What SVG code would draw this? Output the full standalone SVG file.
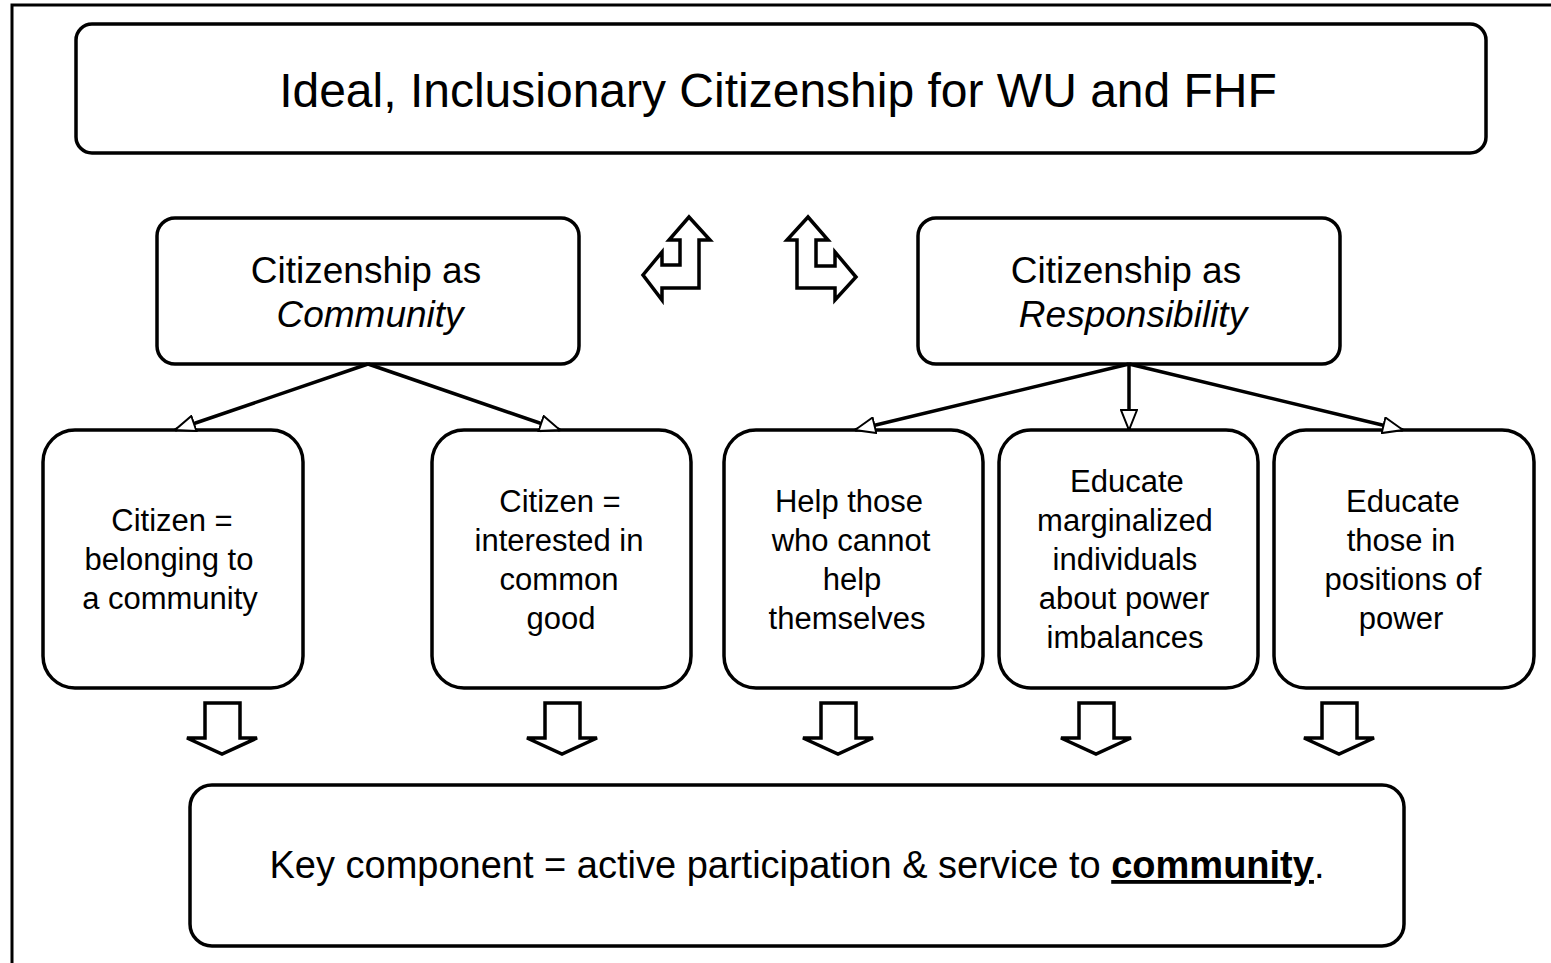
<svg xmlns="http://www.w3.org/2000/svg" width="1551" height="963" viewBox="0 0 1551 963">
<style>
.box{fill:#fff;stroke:#000;stroke-width:3.5}
.t{font-family:"Liberation Sans",Arial,sans-serif;fill:#000;text-anchor:middle}
.big{font-size:48px}
.mid{font-size:37px}
.sm{font-size:31px}
.conn{stroke:#000;stroke-width:3.5;fill:none}
.blk{fill:#fff;stroke:#000;stroke-width:3.5;stroke-linejoin:miter}
</style>
<defs>
<marker id="ah" viewBox="0 0 22 18" refX="21" refY="9" markerWidth="22" markerHeight="18" markerUnits="userSpaceOnUse" orient="auto">
<path d="M1,1 L21,9 L1,17 Z" fill="#fff" stroke="#000" stroke-width="2"/>
</marker>
</defs>
<rect width="1551" height="963" fill="#fff"/>
<path d="M12,963 V5 H1551" fill="none" stroke="#000" stroke-width="3"/>

<g id="title">
<rect class="box" x="76" y="24" width="1410" height="129" rx="16"/>
<text class="t big" x="778" y="107">Ideal, Inclusionary Citizenship for WU and FHF</text>
</g>

<g id="community">
<rect class="box" x="157" y="218" width="422" height="146" rx="18"/>
<text class="t mid" x="366" y="283">Citizenship as</text>
<text class="t mid" x="370" y="327" font-style="italic">Community</text>
</g>

<g id="responsibility">
<rect class="box" x="918" y="218" width="422" height="146" rx="18"/>
<text class="t mid" x="1126" y="283">Citizenship as</text>
<text class="t mid" x="1133" y="327" font-style="italic">Responsibility</text>
</g>

<g id="corner-arrows">
<polygon class="blk" points="689,217 710,240 699,240 699,288 662,288 662,300 643,275 662,252 662,265 680,265 680,240 669,240"/>
<polygon class="blk" points="808,217 787,240 797,240 797,288 835,288 835,300 856,277 835,252 835,266 816,266 816,240 828,240"/>
</g>

<g id="n1">
<rect class="box" x="43" y="430" width="260" height="258" rx="32"/>
<text class="t sm" x="172" y="531">Citizen =</text>
<text class="t sm" x="169" y="570">belonging to</text>
<text class="t sm" x="170" y="609">a community</text>
</g>

<g id="n2">
<rect class="box" x="432" y="430" width="259" height="258" rx="32"/>
<text class="t sm" x="560" y="512">Citizen =</text>
<text class="t sm" x="559" y="551">interested in</text>
<text class="t sm" x="559" y="590">common</text>
<text class="t sm" x="561" y="629">good</text>
</g>

<g id="n3">
<rect class="box" x="724" y="430" width="259" height="258" rx="32"/>
<text class="t sm" x="849" y="512">Help those</text>
<text class="t sm" x="851" y="551">who cannot</text>
<text class="t sm" x="852" y="590">help</text>
<text class="t sm" x="847" y="629">themselves</text>
</g>

<g id="n4">
<rect class="box" x="999" y="430" width="259" height="258" rx="32"/>
<text class="t sm" x="1127" y="492">Educate</text>
<text class="t sm" x="1125" y="531">marginalized</text>
<text class="t sm" x="1125" y="570">individuals</text>
<text class="t sm" x="1124" y="609">about power</text>
<text class="t sm" x="1125" y="648">imbalances</text>
</g>

<g id="n5">
<rect class="box" x="1274" y="430" width="260" height="258" rx="32"/>
<text class="t sm" x="1403" y="512">Educate</text>
<text class="t sm" x="1401" y="551">those in</text>
<text class="t sm" x="1403" y="590">positions  of</text>
<text class="t sm" x="1401" y="629">power</text>
</g>

<g id="key">
<rect class="box" x="190" y="785" width="1214" height="161" rx="22"/>
<text class="t" x="797" y="878" font-size="38">Key component = active participation &amp; service to <tspan font-weight="bold" text-decoration="underline">community</tspan>.</text>
</g>

<g id="connectors">
<line class="conn" x1="368" y1="364" x2="175" y2="430" marker-end="url(#ah)"/>
<line class="conn" x1="368" y1="364" x2="560" y2="430" marker-end="url(#ah)"/>
<line class="conn" x1="1129" y1="364" x2="855" y2="430" marker-end="url(#ah)"/>
<line class="conn" x1="1129" y1="364" x2="1129" y2="430" marker-end="url(#ah)"/>
<line class="conn" x1="1129" y1="364" x2="1403" y2="430" marker-end="url(#ah)"/>
</g>

<g id="down-arrows">
<polygon class="blk" points="205,703 240,703 240,738 257,738 222,754 187,738 205,738"/>
<polygon class="blk" points="545,703 580,703 580,738 597,738 562,754 527,738 545,738"/>
<polygon class="blk" points="821,703 856,703 856,738 873,738 838,754 803,738 821,738"/>
<polygon class="blk" points="1079,703 1114,703 1114,738 1131,738 1096,754 1061,738 1079,738"/>
<polygon class="blk" points="1322,703 1357,703 1357,738 1374,738 1339,754 1304,738 1322,738"/>
</g>
</svg>
